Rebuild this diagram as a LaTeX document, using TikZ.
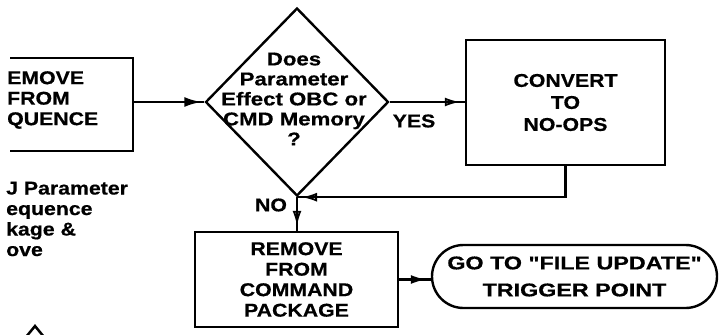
\documentclass[tikz,border=0pt]{standalone}
\usepackage{fontspec}
\setmainfont{Liberation Sans}[FakeStretch=1.15, BoldFeatures={FakeBold=0.6}]
\newfontfamily\widefont{Liberation Sans}[FakeStretch=1.26, BoldFeatures={FakeBold=0.6}]
\newfontfamily\decfont{Liberation Sans}[FakeStretch=1.2, BoldFeatures={FakeBold=0.6}]
\usetikzlibrary{shapes.geometric,shapes.misc,arrows.meta,decorations.markings}
\begin{document}
\begin{tikzpicture}[x=1pt,y=-1pt,
  txt/.style={font=\bfseries\fontsize{18.5}{20.5}\selectfont, inner sep=0},
  widetxt/.style={font=\widefont\bfseries\fontsize{18.5}{20}\selectfont, inner sep=0},
  dectxt/.style={font=\decfont\bfseries\fontsize{18.5}{20}\selectfont, inner sep=0},
  box/.style={draw, line width=2.4pt, rectangle, inner sep=0, align=center, txt},
  conn/.style={line width=2.2pt},
  hollowtip/.style={conn, decoration={markings, mark=at position -5pt with {\arrow{Latex[open,length=15pt,width=9pt,line width=1.8pt]}}}, postaction=decorate},
  solidtip/.style={conn, decoration={markings, mark=at position -3pt with {\arrow{Latex[length=17pt,width=10pt]}}}, postaction=decorate}]
\useasboundingbox (0,0) rectangle (721,335);
\begin{scope}
  \clip (10,0) rectangle (721,335);
  \node[box, minimum width=153pt, minimum height=93pt] (rmseq) at (56.5,104.5) {};
\end{scope}
\node[txt, align=left, anchor=west] (rmseqtext) at (7,100) {EMOVE\\FROM\\QUENCE};
\node[diamond, draw, line width=2.4pt, minimum width=183pt, minimum height=188pt, inner sep=0] (dec) at (297,102) {};
\node[dectxt, align=center] (dectext) at (294,99) {Does\\Parameter\\Effect OBC or\\CMD Memory\\?};
\node[box, minimum width=199pt, minimum height=125pt, font=\bfseries\fontsize{18.5}{22}\selectfont] (conv) at (565.5,102.5) {CONVERT\\TO\\NO-OPS};
\node[box, minimum width=203pt, minimum height=95pt] (rmv) at (296.5,279.5) {REMOVE\\FROM\\COMMAND\\PACKAGE};
\node[rounded rectangle, draw, line width=2.4pt, minimum width=285pt, minimum height=63pt, inner sep=0, align=center, widetxt, font=\widefont\bfseries\fontsize{18.5}{27}\selectfont] (term) at (574.5,276.5) {GO TO "FILE UPDATE"\\TRIGGER POINT};
\node[txt] (yes) at (414,121) {YES};
\node[txt] (no) at (271,205) {NO};
\node[txt, align=left, anchor=west] (lefttext) at (6,219) {J Parameter\\equence\\kage \&\\ove};
\draw[solidtip] (dec.west -| rmseq.east) -- (dec.west);
\draw[hollowtip] (dec.east) -- (dec.east -| conv.west);
\draw[hollowtip] (conv.south) |- (dec.south);
\draw[hollowtip] (dec.south) -- (dec.south |- rmv.north);
\draw[hollowtip] (rmv.east) -- (rmv.east -| term.west);
\draw[line width=2.5pt] (26,337) -- (35,326) -- (44,337);
\end{tikzpicture}
\end{document}
